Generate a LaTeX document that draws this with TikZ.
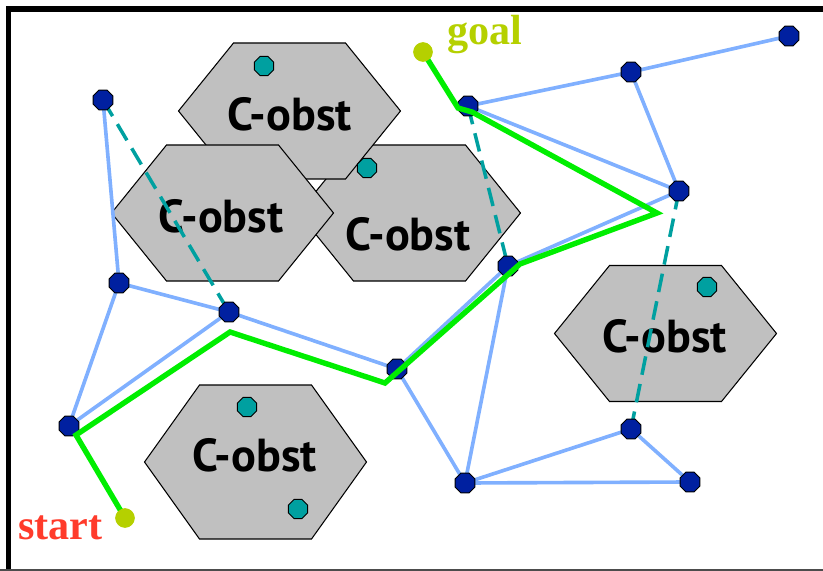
\documentclass[tikz,border=0pt]{standalone}
\usepackage{fontspec}
\setmainfont{Liberation Serif}
\newfontfamily\obstfont{PT Sans}
\usetikzlibrary{shapes.geometric}

\definecolor{obstgray}{HTML}{C0C0C0}
\definecolor{roadblue}{HTML}{80B0FF}
\definecolor{nodeblue}{HTML}{0020A0}
\definecolor{probeteal}{HTML}{00A0A0}
\definecolor{pathgreen}{HTML}{00EE00}
\definecolor{endyellow}{HTML}{B5D000}
\definecolor{startred}{HTML}{FF3B2B}

% hexagonal C-obstacle: #1 centre, #2 half height
\newcommand{\cobst}[2]{
  \draw[obst] #1 ++(-111,0) -- ++(55,-#2) -- ++(112,0) -- ++(55,#2)
    -- ++(-55,#2) -- ++(-112,0) -- cycle;
}

\begin{document}
\begin{tikzpicture}[
    x=0.03cm, y=-0.03cm,
    % Stili
    obst/.style={draw=black, line width=0.9pt, fill=obstgray},
    obstlabel/.style={font=\obstfont\bfseries\fontsize{39.5}{40}\selectfont, inner sep=0pt},
    milestone/.style={regular polygon, regular polygon sides=8, minimum size=0.64cm, inner sep=0pt, draw=black, line width=0.8pt, fill=nodeblue},
    probe/.style={regular polygon, regular polygon sides=8, minimum size=0.62cm, inner sep=0pt, draw=black, line width=0.8pt, fill=probeteal},
    endpoint/.style={circle, minimum size=0.58cm, inner sep=0pt, fill=endyellow},
    road/.style={roadblue, line width=3.1pt},
    blocked/.style={probeteal, line width=3pt, dash pattern=on 16pt off 8pt},
    solution/.style={pathgreen, line width=4.6pt, line join=miter}
  ]
  \useasboundingbox (0,0) rectangle (823,571);

  % Cornice
  \draw[black, line width=5pt] (8.5,571) -- (8.5,9) -- (823,9);
  \draw[black!70, line width=1.2pt] (0,570) -- (823,570);

  % Ostacoli
  \cobst{(409.5,213)}{68}
  \cobst{(289.5,111)}{68}
  \cobst{(222.5,213)}{68}
  \cobst{(255.5,462)}{77}
  \cobst{(665.5,333.5)}{68}
  \node[obstlabel] (lab1) at (289.5,114) {C-obst};
  \node[obstlabel] (lab2) at (221,216) {C-obst};
  \node[obstlabel] (lab3) at (408,234) {C-obst};
  \node[obstlabel] (lab4) at (254.5,455) {C-obst};
  \node[obstlabel] (lab5) at (664.5,336) {C-obst};

  % Campioni in collisione
  \node[probe] (p1) at (264,66) {};
  \node[probe] (p2) at (367,168) {};
  \node[probe] (p3) at (707,287) {};
  \node[probe] (p4) at (247,407) {};
  \node[probe] (p5) at (298,509) {};

  % Nodi della roadmap
  \coordinate (m1) at (103,100);
  \coordinate (m2) at (119,283);
  \coordinate (m3) at (229,312);
  \coordinate (m4) at (69,426);
  \coordinate (m5) at (397,369);
  \coordinate (m6) at (468,106);
  \coordinate (m7) at (631,72);
  \coordinate (m8) at (789,36);
  \coordinate (m9) at (679,191);
  \coordinate (m10) at (508,266);
  \coordinate (m11) at (631,429);
  \coordinate (m12) at (465,483);
  \coordinate (m13) at (690,482);

  % Archi liberi
  \draw[road] (m1) -- (m2);
  \draw[road] (m2) -- (m3);
  \draw[road] (m2) -- (m4);
  \draw[road] (m4) -- (m3);
  \draw[road] (m3) -- (m5);
  \draw[road] (m5) -- (m10);
  \draw[road] (m5) -- (m12);
  \draw[road] (m12) -- (m10);
  \draw[road] (m12) -- (m11);
  \draw[road] (m12) -- (m13);
  \draw[road] (m11) -- (m13);
  \draw[road] (m10) -- (m9);
  \draw[road] (m6) -- (m9);
  \draw[road] (m6) -- (m7);
  \draw[road] (m7) -- (m8);
  \draw[road] (m7) -- (m9);

  % Archi bloccati
  \draw[blocked] (m1) -- (m3);
  \draw[blocked] (m6) -- (m10);
  \draw[blocked] (m9) -- (m11);

  \foreach \m in {m1,m2,m3,m4,m5,m6,m7,m8,m9,m10,m11,m12,m13}
    \node[milestone] (\m n) at (\m) {};

  % Percorso trovato
  \node[endpoint] (goal) at (423,52) {};
  \node[endpoint] (start) at (125,518) {};
  \coordinate (w1) at (458,108);
  \coordinate (w2) at (472,112);
  \coordinate (w3) at (657,213);
  \coordinate (w4) at (520,264);
  \coordinate (w5) at (385,383);
  \coordinate (w6) at (230,332);
  \coordinate (w7) at (76,435);
  \draw[solution] (goal.center) -- (w1) -- (w2) -- (w3) -- (w4) -- (w5)
    -- (w6) -- (w7) -- (start.center);
  \node[endpoint] at (goal) {};
  \node[endpoint] at (start) {};

  % Etichette
  \node[anchor=base west, inner sep=0pt, text=endyellow, font=\bfseries\fontsize{36}{36}\selectfont] (goallab) at (447,45) {goal};
  \node[anchor=base west, inner sep=0pt, text=startred, font=\bfseries\fontsize{36}{36}\selectfont] (startlab) at (18,539) {start};
\end{tikzpicture}
\end{document}
